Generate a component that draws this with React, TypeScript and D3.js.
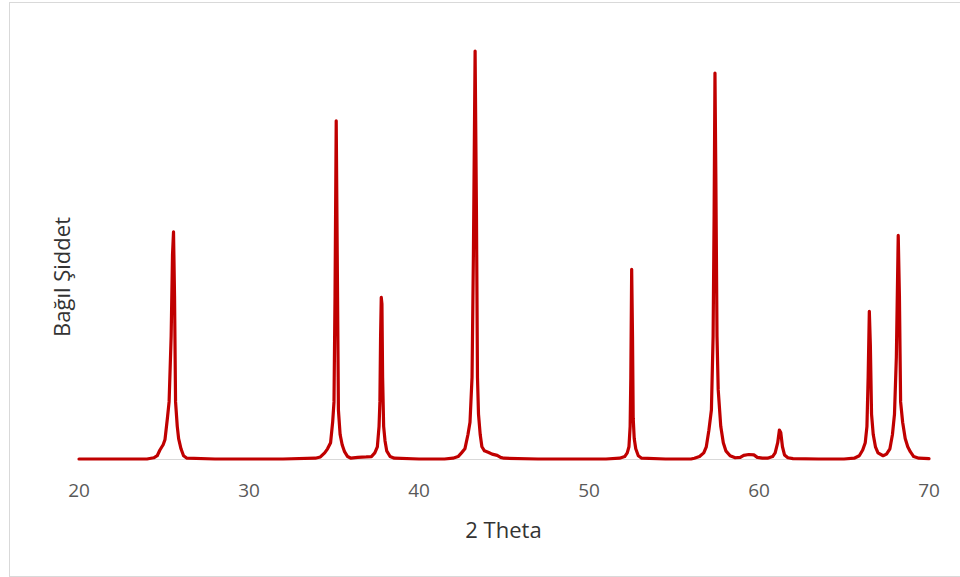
import React from "react";
import * as d3 from "d3";

// 2θ (degrees) and relative intensity
const twoTheta: number[] = [
  20.0, 22.0, 24.0, 24.4, 24.6, 24.76, 24.95, 25.06, 25.2, 25.3, 25.42, 25.5, 25.56, 25.62, 25.68, 25.78, 25.86, 26.0, 26.15, 26.35,
  28.0, 30.0, 32.0,
  33.9, 34.2, 34.45, 34.62, 34.8, 34.92, 35.0, 35.06, 35.13, 35.2, 35.26, 35.36, 35.48, 35.62, 35.8, 36.0,
  36.4, 36.9, 37.2, 37.4, 37.55, 37.65, 37.7, 37.74, 37.78, 37.82, 37.86, 37.92, 38.0, 38.1, 38.3, 38.55,
  40.0, 41.5,
  42.0, 42.3, 42.5, 42.7, 42.88, 43.0, 43.12, 43.2, 43.3, 43.38, 43.44, 43.5, 43.6, 43.7, 43.85, 44.1, 44.3, 44.6, 44.8, 45.0,
  47.0, 49.0, 51.0,
  51.8, 52.1, 52.25, 52.35, 52.42, 52.46, 52.51, 52.56, 52.6, 52.66, 52.75, 52.9, 53.1,
  54.5, 56.0,
  56.2, 56.5, 56.75, 56.9, 57.05, 57.2, 57.3, 57.36, 57.41, 57.46, 57.53, 57.6, 57.75, 57.9, 58.05, 58.3, 58.6, 58.9, 59.1, 59.4, 59.7, 59.9, 60.2,
  60.5, 60.8, 60.95, 61.1, 61.2, 61.28, 61.38, 61.5, 61.7, 62.0,
  63.5, 65.0,
  65.6, 65.9, 66.1, 66.25, 66.35, 66.42, 66.49, 66.55, 66.62, 66.72, 66.85, 67.0, 67.3,
  67.5, 67.7, 67.85, 67.97, 68.08, 68.19, 68.26, 68.33, 68.45, 68.6, 68.75, 68.9, 69.1, 69.4, 70.0,
];

const intensity: number[] = [
  0, 0, 0, 0.3, 0.8, 2.2, 3.5, 4.8, 10, 14, 30, 50, 55.7, 40, 14, 8, 5, 2.5, 0.8, 0.2,
  0, 0, 0,
  0.2, 0.5, 1.5, 2.5, 4, 9, 14, 40, 82.9, 45, 12, 6, 3.5, 1.8, 0.6, 0.2,
  0.4, 0.5, 0.6, 1.5, 3, 8, 14, 30, 39.6, 38, 20, 8, 4.5, 2, 0.6, 0.2,
  0, 0,
  0.2, 0.6, 1.5, 2.5, 6, 9, 20, 50, 100, 60, 20, 11, 6, 3, 2, 1.6, 1.2, 0.9, 0.4, 0.2,
  0, 0, 0,
  0.2, 0.6, 1.5, 3, 8, 20, 46.5, 30, 10, 5, 2.5, 0.8, 0.2,
  0, 0,
  0.2, 0.6, 1.5, 3, 7, 12, 30, 60, 94.6, 70, 30, 17, 8, 4, 2, 0.8, 0.3, 0.4, 0.9, 1.1, 1.0, 0.4, 0.2,
  0.2, 0.6, 1.5, 4, 7.1, 6.5, 3, 1, 0.3, 0.1,
  0, 0,
  0.2, 0.8, 2.2, 4, 8, 20, 36.2, 28, 11, 6, 3, 1.5, 0.8,
  1.2, 2.5, 6, 11, 25, 54.8, 40, 14, 9, 5, 3, 1.8, 0.6, 0.2, 0.1,
];

const xTicks: number[] = [20, 30, 40, 50, 60, 70];
const xTitle = "2 Theta";
const yTitle = "Bağıl Şiddet";

const FONT = "'Open Sans', 'Noto Sans', sans-serif";

export default function App() {
  const x = d3.scaleLinear().domain([20, 70]).range([79, 929]);
  const y = d3.scaleLinear().domain([0, 100]).range([459, 51]);
  const pts = twoTheta.map((t, i) => [t, intensity[i]] as [number, number]);
  const line = d3
    .line<[number, number]>()
    .x((d) => x(d[0]))
    .y((d) => y(d[1]));

  return (
    <svg
      width={960}
      height={577}
      style={{ position: "absolute", left: 0, top: 0, background: "#fff" }}
    >
      <rect x={9.5} y={2.5} width={960} height={574} fill="#fff" stroke="#d9d9d9" strokeWidth={1} />
      <line x1={x(20)} x2={x(70)} y1={y(0) + 0.5} y2={y(0) + 0.5} stroke="#d9d9d9" strokeWidth={1} />
      <path
        d={line(pts) || ""}
        fill="none"
        stroke="#c00000"
        strokeWidth={3.2}
        strokeLinejoin="round"
        strokeLinecap="round"
      />
      {xTicks.map((t) => (
        <text
          key={t}
          x={x(t)}
          y={497}
          textAnchor="middle"
          fontFamily={FONT}
          fontSize={19}
          fill="#595959"
        >
          {t}
        </text>
      ))}
      <text x={503.5} y={538} textAnchor="middle" fontFamily={FONT} fontSize={22} fill="#333333">
        {xTitle}
      </text>
      <text
        transform={`translate(70, 277) rotate(-90)`}
        textAnchor="middle"
        fontFamily={FONT}
        fontSize={22}
        fill="#333333"
      >
        {yTitle}
      </text>
    </svg>
  );
}
